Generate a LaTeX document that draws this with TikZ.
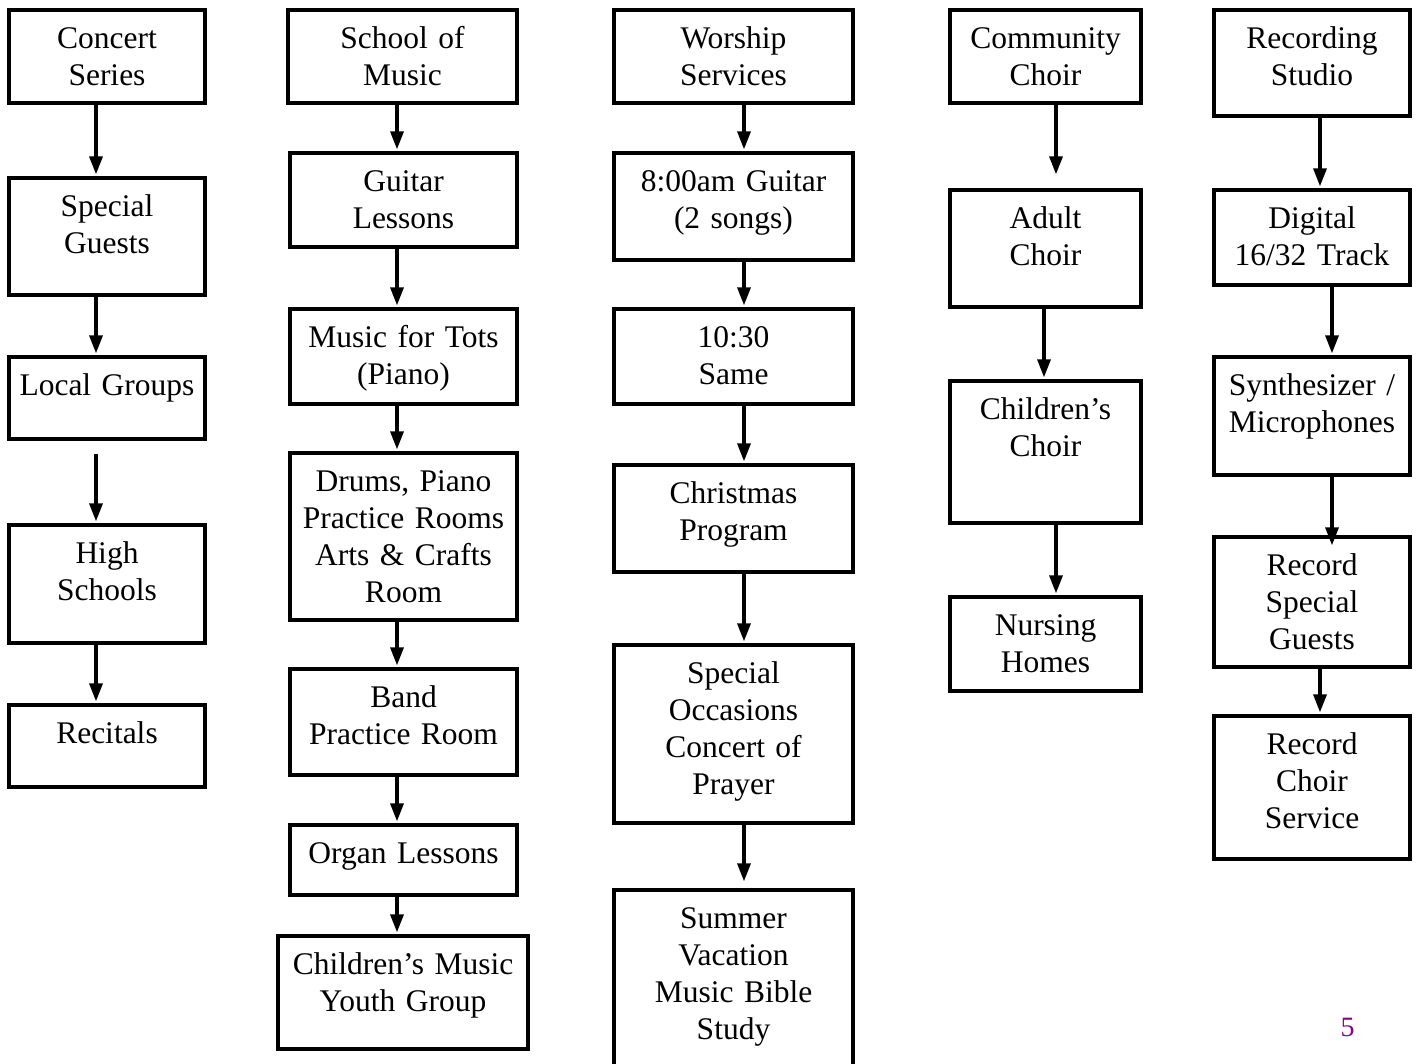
\documentclass[tikz,border=0pt]{standalone}
\usepackage{fontspec}
\setmainfont{Liberation Serif}
\usetikzlibrary{arrows.meta}
\definecolor{pgnum}{RGB}{135,0,135}
\tikzset{
  bx/.style={draw=black, line width=3.3pt, rectangle, inner sep=0pt},
  lbl/.style={anchor=base, text width=260pt, align=center, inner sep=0pt,
              font=\fontsize{31.5}{37}\selectfont},
  arr/.style={line width=3.3pt, -{Triangle[length=18pt,width=13pt]}, shorten >=2pt},
}
\newcommand\bx[6]{%
  \node[bx, minimum width={#4pt-#2pt}, minimum height={#5pt-#3pt}] (#1) at ({(#2+#4)/2},{(#3+#5)/2}) {};
  \node[lbl] (#1t) at ([yshift=-40.5pt]#1.north) {#6};}
\begin{document}
\begin{tikzpicture}[x=1pt, y=-1pt]
\useasboundingbox (0,0) rectangle (1416,1063);
% column 1
\bx{cs}{9}{10}{205}{103}{Concert\\Series}
\bx{sg}{9}{178}{205}{295}{Special\\Guests}
\bx{lg}{9}{357}{205}{439}{Local Groups}
\bx{hs}{9}{525}{205}{643}{High\\Schools}
\bx{rc}{9}{705}{205}{787}{Recitals}
\coordinate (x1) at (96,0);
\draw[arr] (cs.south -| x1) -- (sg.north -| x1);
\draw[arr] (sg.south -| x1) -- (lg.north -| x1);
\draw[arr, shorten <=13pt] (lg.south -| x1) -- (hs.north -| x1);
\draw[arr] (hs.south -| x1) -- (rc.north -| x1);
% column 2
\bx{som}{288}{10}{517}{103}{School of\\Music}
\bx{gl}{290}{153}{517}{247}{Guitar\\Lessons}
\bx{mft}{290}{309}{517}{404}{Music for Tots\\(Piano)}
\bx{drp}{290}{453}{517}{620}{Drums, Piano\\Practice Rooms\\Arts \& Crafts\\Room}
\bx{bpr}{290}{669}{517}{775}{Band\\Practice Room}
\bx{org}{290}{825}{517}{895}{Organ Lessons}
\bx{cmy}{278}{936}{528}{1049}{Children's Music\\Youth Group}
\coordinate (x2) at (397,0);
\draw[arr] (som.south -| x2) -- (gl.north -| x2);
\draw[arr] (gl.south -| x2) -- (mft.north -| x2);
\draw[arr] (mft.south -| x2) -- (drp.north -| x2);
\draw[arr] (drp.south -| x2) -- (bpr.north -| x2);
\draw[arr] (bpr.south -| x2) -- (org.north -| x2);
\draw[arr] (org.south -| x2) -- (cmy.north -| x2);
% column 3
\bx{ws}{614}{10}{853}{103}{Worship\\Services}
\bx{ga}{614}{153}{853}{260}{8:00am Guitar\\(2 songs)}
\bx{sa}{614}{309}{853}{404}{10:30\\Same}
\bx{xp}{614}{465}{853}{572}{Christmas\\Program}
\bx{so}{614}{645}{853}{823}{Special\\Occasions\\Concert of\\Prayer}
\bx{sv}{614}{890}{853}{1090}{Summer\\Vacation\\Music Bible\\Study}
\coordinate (x3) at (744,0);
\draw[arr] (ws.south -| x3) -- (ga.north -| x3);
\draw[arr] (ga.south -| x3) -- (sa.north -| x3);
\draw[arr] (sa.south -| x3) -- (xp.north -| x3);
\draw[arr] (xp.south -| x3) -- (so.north -| x3);
\draw[arr, shorten >=7pt] (so.south -| x3) -- (sv.north -| x3);
% column 4
\bx{cc}{950}{10}{1141}{103}{Community\\Choir}
\bx{ac}{950}{190}{1141}{307}{Adult\\Choir}
\bx{ch}{950}{381}{1141}{523}{Children's\\Choir}
\bx{nh}{950}{597}{1141}{691}{Nursing\\Homes}
\coordinate (x4a) at (1056,0);
\coordinate (x4b) at (1044,0);
\draw[arr, shorten >=14pt] (cc.south -| x4a) -- (ac.north -| x4a);
\draw[arr] (ac.south -| x4b) -- (ch.north -| x4b);
\draw[arr] (ch.south -| x4a) -- (nh.north -| x4a);
% column 5
\bx{rs}{1214}{10}{1410}{116}{Recording\\Studio}
\bx{dt}{1214}{190}{1410}{285}{Digital\\16/32 Track}
\bx{sm}{1214}{357}{1410}{475}{Synthesizer /\\Microphones}
\bx{rg}{1214}{537}{1410}{667}{Record\\Special\\Guests}
\bx{rv}{1214}{716}{1410}{859}{Record\\Choir\\Service}
\coordinate (x5a) at (1320,0);
\coordinate (x5b) at (1332,0);
\draw[arr] (rs.south -| x5a) -- (dt.north -| x5a);
\draw[arr] (dt.south -| x5b) -- (sm.north -| x5b);
\draw[arr, shorten >=-10pt] (sm.south -| x5b) -- (rg.north -| x5b);
\draw[arr] (rg.south -| x5a) -- (rv.north -| x5a);
% page number
\node[text=pgnum, font=\fontsize{28}{30}\selectfont, inner sep=0pt] (pg) at (1347.5,1027.5) {5};
\end{tikzpicture}
\end{document}
